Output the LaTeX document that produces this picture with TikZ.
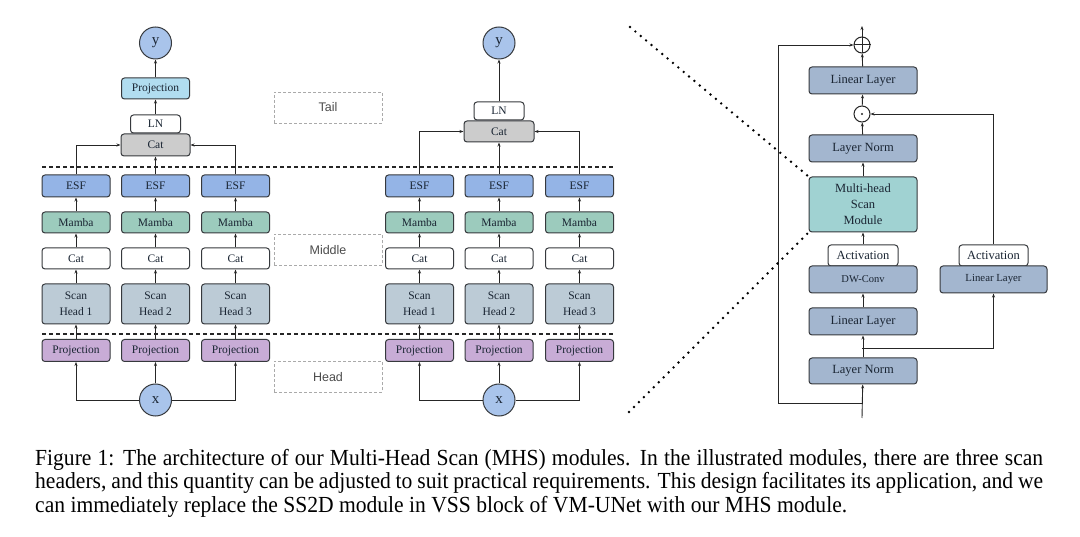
\documentclass[tikz,border=0pt]{standalone}
\usepackage{fontspec}
\setmainfont{Liberation Serif}
\setsansfont{Liberation Sans}
\usepackage{graphicx}
\usetikzlibrary{arrows.meta}
\definecolor{esfc}{HTML}{94B4E6}
\definecolor{mambac}{HTML}{9CCBBD}
\definecolor{scanc}{HTML}{BCCBD6}
\definecolor{projc}{HTML}{C8ACD6}
\definecolor{tprojc}{HTML}{B1DDF0}
\definecolor{catgc}{HTML}{CCCCCC}
\definecolor{circc}{HTML}{A9C4EB}
\definecolor{mhsc}{HTML}{A3B6CF}
\definecolor{mhsmodc}{HTML}{A0D2D2}
\definecolor{strokec}{HTML}{36393D}
\definecolor{txtc}{HTML}{1A2533}
\definecolor{lblc}{HTML}{AAAAAA}
\newlength\mhscapwid
\newcommand\mhscapfont{\fontsize{23}{23.5}\selectfont}
\newcommand\mhscapA{Figure 1: The architecture of our Multi-Head Scan (MHS) modules. In the illustrated modules, there are three scan}
\newcommand\mhscapB{headers, and this quantity can be adjusted to suit practical requirements. This design facilitates its application, and we}
\newcommand\mhscapC{can immediately replace the SS2D module in VSS block of VM-UNet with our MHS module.}
\AtBeginDocument{%
  \settowidth{\mhscapwid}{\mhscapfont\mhscapC}%
  \pgfmathsetmacro\mhscapsx{812/\mhscapwid}\global\let\mhscapsx\mhscapsx
  \pgfmathsetlengthmacro\mhsjw{1008/\mhscapsx}\global\let\mhsjw\mhsjw}
\tikzset{
  blk/.style={draw=strokec, line width=1pt, rounded corners=3pt, inner sep=0pt, text=txtc,
    font=\fontsize{11.5}{16}\selectfont, align=center},
  sz/.style 2 args={minimum width=#1, minimum height=#2},
  mblk/.style={blk, fill=mhsc, minimum width=108pt, minimum height=27pt, font=\fontsize{12.5}{16}\selectfont},
  circ/.style={circle, draw=strokec, line width=1pt, fill=circc, minimum size=32pt, inner sep=0pt,
    font=\fontsize{15}{15}\selectfont, text=txtc},
  opc/.style={circle, draw=black!85, line width=1pt, minimum size=16pt, inner sep=0pt},
  arr/.style={-{Stealth[length=4pt,width=3pt]}, line width=0.9pt, draw=black!85},
  sepline/.style={dash pattern=on 4pt off 3pt, line width=1.1pt, draw=black!85},
  lbl/.style={draw=lblc, dash pattern=on 3pt off 2pt, line width=0.7pt, font=\sffamily\fontsize{12.5}{14}\selectfont,
    text=black!70, minimum width=108pt, minimum height=31pt, inner sep=0pt},
  dotline/.style={line width=2.7pt, dash pattern=on 0pt off 7pt, line cap=round, draw=black}
}
\begin{document}
\begin{tikzpicture}[x=1pt,y=-1pt]
\fill[white] (0,0) rectangle (1080,537);
\useasboundingbox (0,0) rectangle (1080,537);

% separators
\coordinate (sA1) at (42,167); \coordinate (sA2) at (615,167);
\coordinate (sB1) at (42,334); \coordinate (sB2) at (615,334);
\draw[sepline] (sA1) -- (sA2);
\draw[sepline] (sB1) -- (sB2);

% label boxes
\node[lbl] (tail) at (328,107.5) {Tail};
\node[lbl] (middle) at (328,250) {Middle};
\node[lbl] (head) at (328,377) {Head};

% columns
\foreach \m/\c/\i in {L/76/1, L/155.5/2, L/235.5/3, R/419.5/1, R/499/2, R/579.5/3}{
  \node[blk, fill=esfc, sz={68pt}{22pt}] (esf\m\i) at (\c,186) {ESF};
  \node[blk, fill=mambac, sz={68pt}{21pt}] (mam\m\i) at (\c,222.5) {Mamba};
  \node[blk, fill=white, sz={68pt}{21pt}] (cat\m\i) at (\c,258.5) {Cat};
  \node[blk, fill=scanc, sz={68pt}{40pt}] (scan\m\i) at (\c,304) {Scan\\Head \i};
  \node[blk, fill=projc, sz={68pt}{22pt}] (proj\m\i) at (\c,350.5) {Projection};
  \draw[arr] (proj\m\i) -- (scan\m\i);
  \draw[arr] (scan\m\i) -- (cat\m\i);
  \draw[arr] (cat\m\i) -- (mam\m\i);
  \draw[arr] (mam\m\i) -- (esf\m\i);
}

% left module head/tail
\node[circ] (xL) at (155.5,400) {x};
\node[circ] (yL) at (155.5,43) {y};
\draw[arr] (xL.west) -| (projL1.south);
\draw[arr] (xL) -- (projL2);
\draw[arr] (xL.east) -| (projL3.south);
\node[blk, fill=catgc, sz={69pt}{22pt}] (tcatL) at (155.5,145) {Cat};
\node[blk, fill=white, sz={50pt}{18pt}, anchor=south] (lnL) at (tcatL.north) {LN};
\node[blk, fill=tprojc, sz={68pt}{21pt}] (tprojL) at (155.5,88.5) {Projection};
\draw[arr] (esfL1.north) |- (tcatL.west);
\draw[arr] (esfL2) -- (tcatL);
\draw[arr] (esfL3.north) |- (tcatL.east);
\draw[arr] (lnL) -- (tprojL);
\draw[arr] (tprojL) -- (yL);

% right module head/tail
\node[circ] (xR) at (499,400) {x};
\node[circ] (yR) at (499,43) {y};
\draw[arr] (xR.west) -| (projR1.south);
\draw[arr] (xR) -- (projR2);
\draw[arr] (xR.east) -| (projR3.south);
\node[blk, fill=catgc, sz={70pt}{21pt}] (tcatR) at (499,131.5) {Cat};
\node[blk, fill=white, sz={50pt}{18pt}, anchor=south] (lnR) at (tcatR.north) {LN};
\draw[arr] (esfR1.north) |- (tcatR.west);
\draw[arr] (esfR2) -- (tcatR);
\draw[arr] (esfR3.north) |- (tcatR.east);
\draw[arr] (lnR) -- (yR);

% MHS / VSS block
\node[opc] (plus) at (862,45) {};
\draw[line width=1pt, black!85] (plus.north) -- (plus.south) (plus.west) -- (plus.east);
\node[mblk] (lin2) at (863,80.5) {Linear Layer};
\node[opc] (dot) at (862,114) {};
\fill[black!85] (dot.center) circle (1.1pt);
\node[mblk] (ln2) at (863,148.5) {Layer Norm};
\node[mblk, fill=mhsmodc, minimum height=55pt] (mhs) at (863,204.5) {Multi-head\\Scan\\Module};
\node[blk, fill=white, sz={70pt}{21pt}, font=\fontsize{12.5}{16}\selectfont] (act1) at (863,255.5) {Activation};
\node[mblk, font=\fontsize{10.5}{14}\selectfont] (dw) at (863,279.5) {DW-Conv};
\node[mblk] (lin1) at (863,321.5) {Linear Layer};
\node[mblk, minimum height=26pt] (ln1) at (863,371) {Layer Norm};
\node[blk, fill=white, sz={69pt}{21pt}, font=\fontsize{12.5}{16}\selectfont] (act2) at (993.5,255.5) {Activation};
\node[mblk, minimum width=107pt, font=\fontsize{10.8}{14}\selectfont] (rlin) at (993.5,279.5) {Linear Layer};

\coordinate (topout) at (862,26);
\coordinate (inp) at (862,418);
\coordinate (br1) at (862,403);
\coordinate (br2) at (862,348);
\coordinate (rcb) at (778,403);
\coordinate (rct) at (778,45);
\coordinate (br2r) at (993.5,348);
\coordinate (a2t) at (993.5,114);

\draw[arr] (inp) -- (ln1);
\draw[arr] (ln1) -- (lin1);
\draw[arr] (lin1) -- (dw);
\draw[arr] (act1) -- (mhs);
\draw[arr] (mhs) -- (ln2);
\draw[arr] (ln2) -- (dot);
\draw[arr] (dot) -- (lin2);
\draw[arr] (lin2) -- (plus);
\draw[arr] (plus) -- (topout);
\draw[arr] (br1) -- (rcb) -- (rct) -- (plus.west);
\draw[arr] (br2) -- (br2r) -- (rlin.south);
\draw[arr] (act2.north) -- (a2t) -- (dot.east);

% dotted zoom lines
\coordinate (dA) at (630,27);
\coordinate (dB) at (629,412);
\draw[dotline] (dA) -- (mhs.north west);
\draw[dotline] (dB) -- (mhs.south west);

% caption
\node[anchor=base west, inner sep=0pt] (cap1) at (35,465) {\mhscapfont\scalebox{\mhscapsx}[1]{\makebox[\mhsjw][s]{\mhscapA}}};
\node[anchor=base west, inner sep=0pt] (cap2) at (35,488.5) {\mhscapfont\scalebox{\mhscapsx}[1]{\makebox[\mhsjw][s]{\mhscapB}}};
\node[anchor=base west, inner sep=0pt] (cap3) at (35,512) {\mhscapfont\scalebox{\mhscapsx}[1]{\mhscapC}};
\end{tikzpicture}
\end{document}
